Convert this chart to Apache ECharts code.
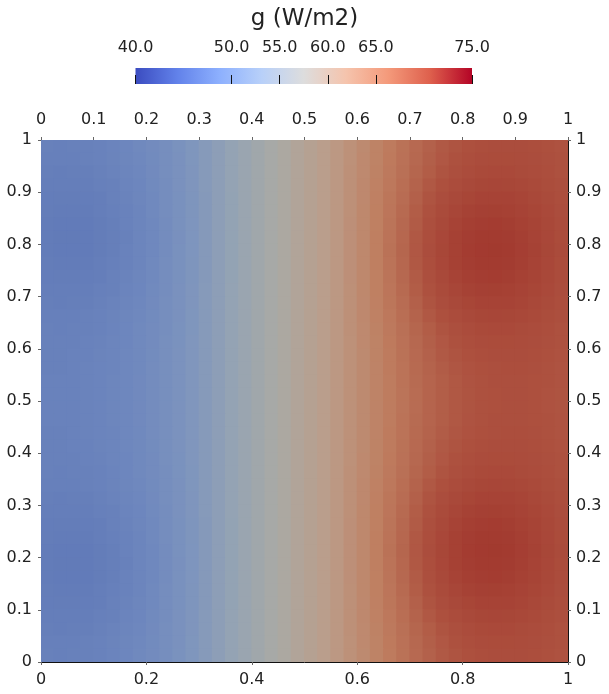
<!DOCTYPE html>
<html><head><meta charset="utf-8">
<script src="https://cdn.jsdelivr.net/npm/echarts@6/dist/echarts.min.js"></script>
<style>html,body{margin:0;padding:0;background:#fff}#c{width:609px;height:694px}</style>
</head><body><div id="c"></div>
<script>
// ---- data ----
const title = 'g (W/m2)';
const colorMin = 40, colorMax = 75;
const colorbarTicks = [40, 50, 55, 60, 65, 75];
const nCols = 40, nRows = 40;
// g values, rows listed from top (y = 1) to bottom (y = 0), 40 cells each from x = 0 to x = 1
const gRows = [
[42.2,42.1,42.2,42.4,42.8,43.4,44.1,44.9,45.7,46.8,48.0,49.2,50.5,51.8,53.1,54.4,55.7,57.0,58.2,59.4,60.5,61.6,62.6,63.6,64.6,65.6,66.5,67.4,68.3,69.1,69.8,70.3,70.8,71.1,71.3,71.3,71.3,71.1,70.8,70.5],
[42.0,41.9,42.0,42.2,42.6,43.2,43.9,44.7,45.6,46.7,47.9,49.2,50.4,51.8,53.1,54.4,55.7,57.0,58.2,59.4,60.5,61.6,62.6,63.6,64.7,65.6,66.6,67.5,68.4,69.3,70.0,70.6,71.1,71.5,71.6,71.6,71.5,71.3,70.9,70.6],
[41.7,41.5,41.6,41.8,42.2,42.9,43.6,44.5,45.5,46.6,47.8,49.1,50.4,51.8,53.1,54.4,55.7,57.0,58.2,59.4,60.5,61.6,62.6,63.7,64.7,65.7,66.7,67.6,68.6,69.5,70.3,71.0,71.5,71.9,72.0,72.0,71.8,71.5,71.1,70.7],
[41.4,41.2,41.3,41.4,41.9,42.5,43.3,44.2,45.3,46.5,47.8,49.1,50.4,51.8,53.1,54.4,55.7,57.0,58.2,59.4,60.5,61.6,62.6,63.7,64.8,65.8,66.8,67.8,68.9,69.9,70.8,71.5,72.1,72.5,72.6,72.5,72.3,71.9,71.4,70.9],
[41.1,40.9,40.9,41.1,41.5,42.2,43.0,44.0,45.1,46.4,47.7,49.0,50.3,51.7,53.0,54.4,55.7,57.0,58.2,59.4,60.5,61.6,62.6,63.7,64.8,65.9,67.0,68.0,69.2,70.3,71.3,72.1,72.7,73.1,73.2,73.1,72.8,72.3,71.7,71.1],
[40.9,40.6,40.6,40.7,41.2,41.9,42.8,43.8,44.9,46.3,47.6,49.0,50.3,51.7,53.0,54.4,55.7,57.0,58.2,59.4,60.5,61.6,62.6,63.7,64.9,66.0,67.1,68.2,69.5,70.7,71.7,72.6,73.3,73.7,73.8,73.6,73.2,72.7,72.0,71.3],
[40.7,40.4,40.4,40.5,41.0,41.7,42.6,43.7,44.8,46.2,47.6,48.9,50.3,51.7,53.0,54.4,55.7,57.0,58.2,59.4,60.5,61.6,62.6,63.8,64.9,66.0,67.2,68.4,69.7,71.0,72.1,73.1,73.9,74.3,74.4,74.1,73.6,73.0,72.2,71.5],
[40.6,40.3,40.3,40.4,40.9,41.6,42.5,43.6,44.8,46.2,47.5,48.9,50.3,51.7,53.0,54.4,55.7,57.0,58.2,59.4,60.5,61.6,62.6,63.8,64.9,66.1,67.3,68.5,69.9,71.2,72.4,73.5,74.2,74.7,74.7,74.5,73.9,73.2,72.4,71.6],
[40.7,40.4,40.4,40.5,41.0,41.7,42.6,43.7,44.8,46.2,47.6,48.9,50.3,51.7,53.0,54.4,55.7,57.0,58.2,59.4,60.5,61.6,62.6,63.8,64.9,66.1,67.4,68.6,70.0,71.3,72.5,73.6,74.4,74.8,74.9,74.6,74.0,73.3,72.5,71.7],
[40.9,40.6,40.6,40.7,41.2,41.9,42.8,43.8,44.9,46.3,47.6,49.0,50.3,51.7,53.0,54.4,55.7,57.0,58.2,59.4,60.5,61.6,62.6,63.8,64.9,66.1,67.3,68.5,69.9,71.2,72.4,73.5,74.2,74.7,74.7,74.5,73.9,73.2,72.4,71.6],
[41.1,40.9,40.9,41.1,41.5,42.2,43.0,44.0,45.1,46.4,47.7,49.0,50.3,51.7,53.0,54.4,55.7,57.0,58.2,59.4,60.5,61.6,62.6,63.8,64.9,66.0,67.2,68.4,69.7,71.0,72.1,73.1,73.9,74.3,74.4,74.1,73.6,73.0,72.2,71.5],
[41.4,41.2,41.3,41.4,41.9,42.5,43.3,44.2,45.3,46.5,47.8,49.1,50.4,51.8,53.1,54.4,55.7,57.0,58.2,59.4,60.5,61.6,62.6,63.7,64.9,66.0,67.1,68.2,69.5,70.7,71.7,72.6,73.3,73.7,73.8,73.6,73.2,72.7,72.0,71.3],
[41.7,41.5,41.6,41.8,42.2,42.9,43.6,44.5,45.5,46.6,47.8,49.1,50.4,51.8,53.1,54.4,55.7,57.0,58.2,59.4,60.5,61.6,62.6,63.7,64.8,65.9,67.0,68.0,69.2,70.3,71.3,72.1,72.7,73.1,73.2,73.1,72.8,72.3,71.7,71.1],
[42.0,41.9,42.0,42.2,42.6,43.2,43.9,44.7,45.6,46.7,47.9,49.2,50.4,51.8,53.1,54.4,55.7,57.0,58.2,59.4,60.5,61.6,62.6,63.7,64.8,65.8,66.8,67.8,68.9,69.9,70.8,71.5,72.1,72.5,72.6,72.5,72.3,71.9,71.4,70.9],
[42.2,42.1,42.2,42.4,42.8,43.4,44.1,44.9,45.7,46.8,48.0,49.2,50.5,51.8,53.1,54.4,55.7,57.0,58.2,59.4,60.5,61.6,62.6,63.7,64.7,65.7,66.7,67.6,68.6,69.5,70.3,71.0,71.5,71.9,72.0,72.0,71.8,71.5,71.1,70.7],
[42.3,42.3,42.4,42.6,43.0,43.6,44.2,45.0,45.8,46.9,48.0,49.3,50.5,51.8,53.1,54.4,55.7,57.0,58.2,59.4,60.5,61.6,62.6,63.6,64.7,65.6,66.6,67.5,68.4,69.3,70.0,70.6,71.1,71.5,71.6,71.6,71.5,71.3,70.9,70.6],
[42.4,42.4,42.6,42.8,43.2,43.7,44.3,45.1,45.9,46.9,48.1,49.3,50.5,51.8,53.1,54.4,55.7,57.0,58.2,59.4,60.5,61.6,62.6,63.6,64.6,65.6,66.5,67.4,68.3,69.1,69.8,70.3,70.8,71.1,71.3,71.3,71.3,71.1,70.8,70.5],
[42.5,42.5,42.7,42.9,43.3,43.8,44.4,45.1,46.0,47.0,48.1,49.3,50.5,51.8,53.1,54.4,55.7,57.0,58.2,59.4,60.5,61.6,62.6,63.6,64.6,65.5,66.5,67.3,68.2,68.9,69.6,70.1,70.5,70.8,71.0,71.1,71.1,70.9,70.7,70.4],
[42.6,42.6,42.8,43.0,43.4,43.9,44.5,45.2,46.0,47.0,48.1,49.3,50.5,51.8,53.1,54.4,55.7,57.0,58.2,59.4,60.5,61.6,62.6,63.6,64.6,65.5,66.4,67.3,68.1,68.8,69.4,69.9,70.4,70.7,70.9,71.0,70.9,70.8,70.6,70.4],
[42.6,42.6,42.8,43.0,43.4,43.9,44.5,45.2,46.0,47.0,48.1,49.3,50.5,51.8,53.1,54.4,55.7,57.0,58.2,59.4,60.5,61.6,62.6,63.6,64.6,65.5,66.4,67.2,68.0,68.8,69.4,69.9,70.3,70.6,70.8,70.9,70.9,70.8,70.5,70.3],
[42.6,42.6,42.8,43.0,43.4,43.9,44.5,45.2,46.0,47.0,48.1,49.3,50.5,51.8,53.1,54.4,55.7,57.0,58.2,59.4,60.5,61.6,62.6,63.6,64.6,65.5,66.4,67.2,68.0,68.8,69.4,69.9,70.3,70.6,70.8,70.9,70.9,70.8,70.5,70.3],
[42.6,42.6,42.8,43.0,43.4,43.9,44.5,45.2,46.0,47.0,48.1,49.3,50.5,51.8,53.1,54.4,55.7,57.0,58.2,59.4,60.5,61.6,62.6,63.6,64.6,65.5,66.4,67.3,68.1,68.8,69.4,69.9,70.4,70.7,70.9,71.0,70.9,70.8,70.6,70.4],
[42.5,42.5,42.7,42.9,43.3,43.8,44.4,45.1,46.0,47.0,48.1,49.3,50.5,51.8,53.1,54.4,55.7,57.0,58.2,59.4,60.5,61.6,62.6,63.6,64.6,65.5,66.5,67.3,68.2,68.9,69.6,70.1,70.5,70.8,71.0,71.1,71.1,70.9,70.7,70.4],
[42.4,42.4,42.6,42.8,43.2,43.7,44.3,45.1,45.9,46.9,48.1,49.3,50.5,51.8,53.1,54.4,55.7,57.0,58.2,59.4,60.5,61.6,62.6,63.6,64.6,65.6,66.5,67.4,68.3,69.1,69.8,70.3,70.8,71.1,71.3,71.3,71.3,71.1,70.8,70.5],
[42.3,42.3,42.4,42.6,43.0,43.6,44.2,45.0,45.8,46.9,48.0,49.3,50.5,51.8,53.1,54.4,55.7,57.0,58.2,59.4,60.5,61.6,62.6,63.6,64.7,65.6,66.6,67.5,68.4,69.3,70.0,70.6,71.1,71.5,71.6,71.6,71.5,71.3,70.9,70.6],
[42.2,42.1,42.2,42.4,42.8,43.4,44.1,44.9,45.7,46.8,48.0,49.2,50.5,51.8,53.1,54.4,55.7,57.0,58.2,59.4,60.5,61.6,62.6,63.7,64.7,65.7,66.7,67.6,68.6,69.5,70.3,71.0,71.5,71.9,72.0,72.0,71.8,71.5,71.1,70.7],
[42.0,41.9,42.0,42.2,42.6,43.2,43.9,44.7,45.6,46.7,47.9,49.2,50.4,51.8,53.1,54.4,55.7,57.0,58.2,59.4,60.5,61.6,62.6,63.7,64.8,65.8,66.8,67.8,68.9,69.9,70.8,71.5,72.1,72.5,72.6,72.5,72.3,71.9,71.4,70.9],
[41.7,41.5,41.6,41.8,42.2,42.9,43.6,44.5,45.5,46.6,47.8,49.1,50.4,51.8,53.1,54.4,55.7,57.0,58.2,59.4,60.5,61.6,62.6,63.7,64.8,65.9,67.0,68.0,69.2,70.3,71.3,72.1,72.7,73.1,73.2,73.1,72.8,72.3,71.7,71.1],
[41.4,41.2,41.3,41.4,41.9,42.5,43.3,44.2,45.3,46.5,47.8,49.1,50.4,51.8,53.1,54.4,55.7,57.0,58.2,59.4,60.5,61.6,62.6,63.7,64.9,66.0,67.1,68.2,69.5,70.7,71.7,72.6,73.3,73.7,73.8,73.6,73.2,72.7,72.0,71.3],
[41.1,40.9,40.9,41.1,41.5,42.2,43.0,44.0,45.1,46.4,47.7,49.0,50.3,51.7,53.0,54.4,55.7,57.0,58.2,59.4,60.5,61.6,62.6,63.8,64.9,66.0,67.2,68.4,69.7,71.0,72.1,73.1,73.9,74.3,74.4,74.1,73.6,73.0,72.2,71.5],
[40.9,40.6,40.6,40.7,41.2,41.9,42.8,43.8,44.9,46.3,47.6,49.0,50.3,51.7,53.0,54.4,55.7,57.0,58.2,59.4,60.5,61.6,62.6,63.8,64.9,66.1,67.3,68.5,69.9,71.2,72.4,73.5,74.2,74.7,74.7,74.5,73.9,73.2,72.4,71.6],
[40.7,40.4,40.4,40.5,41.0,41.7,42.6,43.7,44.8,46.2,47.6,48.9,50.3,51.7,53.0,54.4,55.7,57.0,58.2,59.4,60.5,61.6,62.6,63.8,64.9,66.1,67.4,68.6,70.0,71.3,72.5,73.6,74.4,74.8,74.9,74.6,74.0,73.3,72.5,71.7],
[40.6,40.3,40.3,40.4,40.9,41.6,42.5,43.6,44.8,46.2,47.5,48.9,50.3,51.7,53.0,54.4,55.7,57.0,58.2,59.4,60.5,61.6,62.6,63.8,64.9,66.1,67.3,68.5,69.9,71.2,72.4,73.5,74.2,74.7,74.7,74.5,73.9,73.2,72.4,71.6],
[40.7,40.4,40.4,40.5,41.0,41.7,42.6,43.7,44.8,46.2,47.6,48.9,50.3,51.7,53.0,54.4,55.7,57.0,58.2,59.4,60.5,61.6,62.6,63.8,64.9,66.0,67.2,68.4,69.7,71.0,72.1,73.1,73.9,74.3,74.4,74.1,73.6,73.0,72.2,71.5],
[40.9,40.6,40.6,40.7,41.2,41.9,42.8,43.8,44.9,46.3,47.6,49.0,50.3,51.7,53.0,54.4,55.7,57.0,58.2,59.4,60.5,61.6,62.6,63.7,64.9,66.0,67.1,68.2,69.5,70.7,71.7,72.6,73.3,73.7,73.8,73.6,73.2,72.7,72.0,71.3],
[41.1,40.9,40.9,41.1,41.5,42.2,43.0,44.0,45.1,46.4,47.7,49.0,50.3,51.7,53.0,54.4,55.7,57.0,58.2,59.4,60.5,61.6,62.6,63.7,64.8,65.9,67.0,68.0,69.2,70.3,71.3,72.1,72.7,73.1,73.2,73.1,72.8,72.3,71.7,71.1],
[41.4,41.2,41.3,41.4,41.9,42.5,43.3,44.2,45.3,46.5,47.8,49.1,50.4,51.8,53.1,54.4,55.7,57.0,58.2,59.4,60.5,61.6,62.6,63.7,64.8,65.8,66.8,67.8,68.9,69.9,70.8,71.5,72.1,72.5,72.6,72.5,72.3,71.9,71.4,70.9],
[41.7,41.5,41.6,41.8,42.2,42.9,43.6,44.5,45.5,46.6,47.8,49.1,50.4,51.8,53.1,54.4,55.7,57.0,58.2,59.4,60.5,61.6,62.6,63.7,64.7,65.7,66.7,67.6,68.6,69.5,70.3,71.0,71.5,71.9,72.0,72.0,71.8,71.5,71.1,70.7],
[42.0,41.9,42.0,42.2,42.6,43.2,43.9,44.7,45.6,46.7,47.9,49.2,50.4,51.8,53.1,54.4,55.7,57.0,58.2,59.4,60.5,61.6,62.6,63.6,64.7,65.6,66.6,67.5,68.4,69.3,70.0,70.6,71.1,71.5,71.6,71.6,71.5,71.3,70.9,70.6],
[42.2,42.1,42.2,42.4,42.8,43.4,44.1,44.9,45.7,46.8,48.0,49.2,50.5,51.8,53.1,54.4,55.7,57.0,58.2,59.4,60.5,61.6,62.6,63.6,64.6,65.6,66.5,67.4,68.3,69.1,69.8,70.3,70.8,71.1,71.3,71.3,71.3,71.1,70.8,70.5]
];
// displayed (shaded) cool-to-warm colours used on the surface
const surfaceColors = ['#617ab8','#6e87be','#7d94be','#94a3b4','#a9aaa5','#bb9d8a','#bf7e60','#ad513f','#a2392f'];
// colour legend (cool to warm)
const legendColors = ['#3b4cc0','#6282ea','#8db0fe','#b8d0f9','#dddddd','#f5c4ad','#f49a7b','#de604d','#b40426'];

// ---- build ----
const xCats = Array.from({length: nCols}, (_, i) => String(i));
const yCats = Array.from({length: nRows}, (_, j) => String(j));
const heat = [];
gRows.forEach((row, r) => {
  const j = nRows - 1 - r;
  row.forEach((v, i) => heat.push([i, j, v]));
});

const FONT = 'DejaVu Sans';
const TXT = '#222';
const plot = {left: 41, top: 140, width: 527, height: 522};
const gradStops = legendColors.map((c, k) => ({offset: k / (legendColors.length - 1), color: c}));

const chart = echarts.init(document.getElementById('c'), null, {renderer: 'canvas'});
const axisCommon = (extra) => Object.assign({
  type: 'value', min: 0, max: 1, gridIndex: 1,
  splitLine: {show: false},
  axisLine: {show: true, onZero: false, lineStyle: {color: '#111', width: 1}},
  axisTick: {show: true, length: 3, inside: false, lineStyle: {color: '#666'}},
  axisLabel: {fontFamily: FONT, fontSize: 16, color: TXT}
}, extra);

function renderCell(params, api) {
  const c = api.coord([api.value(0), api.value(1)]);
  const s = api.size([1, 1]);
  const x0 = Math.max(plot.left, c[0] - s[0] / 2 - 0.5);
  const x1 = Math.min(plot.left + plot.width, c[0] + s[0] / 2 + 0.5);
  const y0 = Math.max(plot.top, c[1] - s[1] / 2 - 0.5);
  const y1 = Math.min(plot.top + plot.height, c[1] + s[1] / 2 + 0.5);
  return {type: 'rect', shape: {x: x0, y: y0, width: x1 - x0, height: y1 - y0},
          style: {fill: api.visual('color')}};
}

chart.setOption({
  animation: false,
  backgroundColor: '#fff',
  title: {text: title, left: 'center', top: 3, textStyle: {fontFamily: FONT, fontSize: 23, fontWeight: 'normal', color: TXT}},
  grid: [
    Object.assign({}, plot),
    Object.assign({}, plot),
    {left: 135.5, top: 68, width: 336.5, height: 16, show: true, borderWidth: 0,
     backgroundColor: new echarts.graphic.LinearGradient(0, 0, 1, 0, gradStops)}
  ],
  xAxis: [
    {type: 'category', gridIndex: 0, data: xCats, show: false},
    axisCommon({position: 'bottom', interval: 0.2, axisLabel: {fontFamily: FONT, fontSize: 16, color: TXT, margin: 10}}),
    axisCommon({position: 'top', interval: 0.1, axisLabel: {fontFamily: FONT, fontSize: 16, color: TXT, margin: 12}}),
    {type: 'value', gridIndex: 2, position: 'top', min: colorMin, max: colorMax,
     splitLine: {show: false}, axisLine: {show: false},
     axisTick: {show: true, length: 9, customValues: colorbarTicks, lineStyle: {color: '#111', width: 1}},
     axisLabel: {customValues: colorbarTicks, formatter: v => v.toFixed(1), fontFamily: FONT, fontSize: 16, color: TXT, margin: 12}}
  ],
  yAxis: [
    {type: 'category', gridIndex: 0, data: yCats, show: false},
    axisCommon({position: 'left', interval: 0.1, axisLabel: {fontFamily: FONT, fontSize: 16, color: TXT, margin: 9}}),
    axisCommon({position: 'right', interval: 0.1, axisLabel: {fontFamily: FONT, fontSize: 16, color: TXT, margin: 8}}),
    {type: 'value', gridIndex: 2, show: false, min: 0, max: 1}
  ],
  visualMap: [{
    type: 'continuous', show: false, seriesIndex: 0, dimension: 2,
    min: colorMin, max: colorMax, inRange: {color: surfaceColors}
  }],
  series: [{
    type: 'custom', xAxisIndex: 0, yAxisIndex: 0, data: heat,
    encode: {x: 0, y: 1}, renderItem: renderCell, z: 1, silent: true
  }]
});
</script></body></html>
